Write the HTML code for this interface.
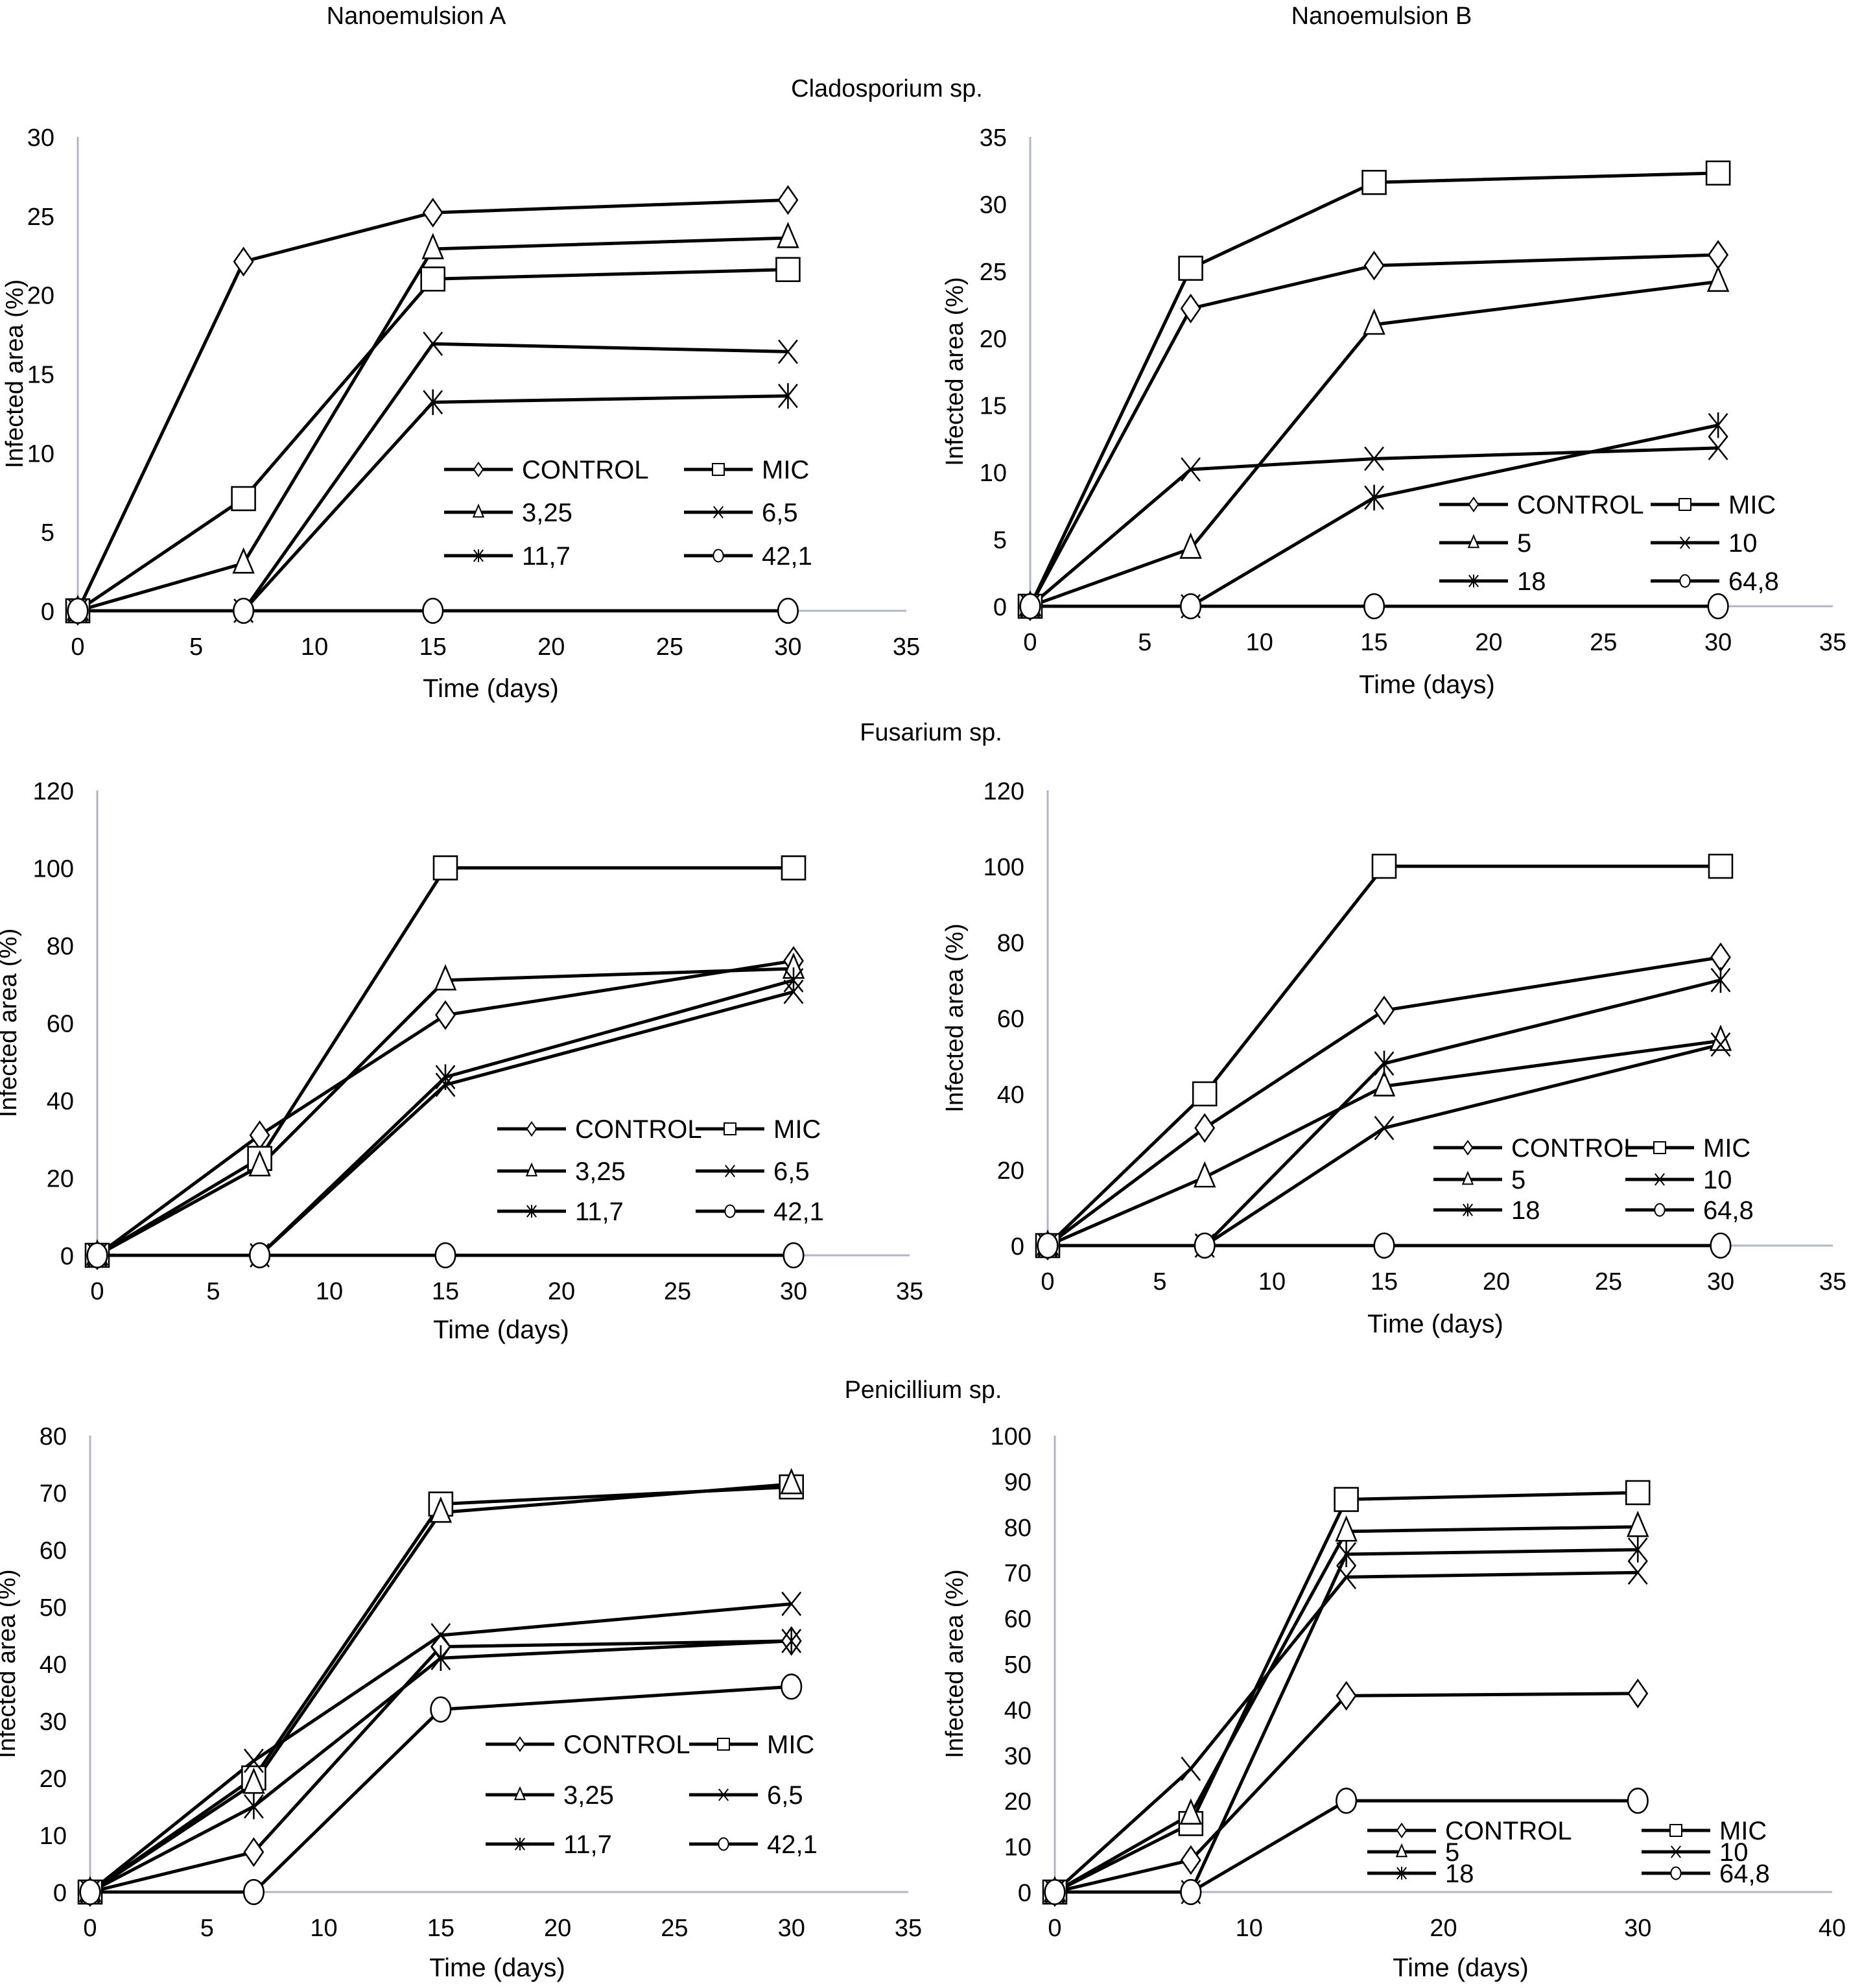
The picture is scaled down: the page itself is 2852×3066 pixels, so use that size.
<!DOCTYPE html>
<html><head><meta charset="utf-8"><style>
html,body{margin:0;padding:0;background:#fff;}
svg{display:block;font-family:"Liberation Sans",Arial,sans-serif;}
</style></head><body>
<svg id="fig" width="2852" height="3066" viewBox="0 0 2852 3066" xmlns="http://www.w3.org/2000/svg">
<text x="642" y="37" font-size="38" text-anchor="middle">Nanoemulsion A</text>
<text x="2131" y="37" font-size="38" text-anchor="middle">Nanoemulsion B</text>
<text x="1368" y="149" font-size="38" text-anchor="middle">Cladosporium sp.</text>
<text x="1436" y="1142" font-size="38" text-anchor="middle">Fusarium sp.</text>
<text x="1424" y="2156" font-size="38" text-anchor="middle">Penicillium sp.</text>
</svg>
<script>
const days = [0, 7, 15, 30];
const legendA = ["CONTROL", "MIC", "3,25", "6,5", "11,7", "42,1"];
const legendB = ["CONTROL", "MIC", "5", "10", "18", "64,8"];
const markers = ["diamond", "square", "triangle", "x", "star", "circle"];

const cladA_control = [0, 22.1, 25.2, 26.0];
const cladA_mic = [0, 7.1, 21.0, 21.6];
const cladA_c1 = [0, 3.0, 22.9, 23.6];
const cladA_c2 = [0, 0, 16.9, 16.4];
const cladA_c3 = [0, 0, 13.2, 13.6];
const cladA_c4 = [0, 0, 0, 0];

const cladB_control = [0, 22.2, 25.4, 26.2];
const cladB_mic = [0, 25.2, 31.6, 32.3];
const cladB_c1 = [0, 4.3, 21.0, 24.2];
const cladB_c2 = [0, 10.2, 11.0, 11.8];
const cladB_c3 = [0, 0, 8.1, 13.5];
const cladB_c4 = [0, 0, 0, 0];

const fusA_control = [0, 31, 62, 76];
const fusA_mic = [0, 25, 100, 100];
const fusA_c1 = [0, 23, 71, 74];
const fusA_c2 = [0, 0, 44, 68];
const fusA_c3 = [0, 0, 46, 71];
const fusA_c4 = [0, 0, 0, 0];

const fusB_control = [0, 31, 62, 76];
const fusB_mic = [0, 40, 100, 100];
const fusB_c1 = [0, 18, 42, 54];
const fusB_c2 = [0, 0, 31, 53];
const fusB_c3 = [0, 0, 48, 70];
const fusB_c4 = [0, 0, 0, 0];

const penA_control = [0, 7, 43, 44];
const penA_mic = [0, 20, 68, 71];
const penA_c1 = [0, 19, 66.5, 71.5];
const penA_c2 = [0, 23, 45, 50.5];
const penA_c3 = [0, 15, 41, 44];
const penA_c4 = [0, 0, 32, 36];

const penB_control = [0, 7, 43, 43.5];
const penB_mic = [0, 15, 86, 87.5];
const penB_c1 = [0, 17, 79, 80];
const penB_c2 = [0, 27, 69, 70];
const penB_c3 = [0, 0, 74, 75];
const penB_c4 = [0, 0, 20, 20];

const ticksXa = [0, 5, 10, 15, 20, 25, 30, 35];
const ticksXb = [0, 10, 20, 30, 40];
const ticksY30 = [0, 5, 10, 15, 20, 25, 30];
const ticksY35 = [0, 5, 10, 15, 20, 25, 30, 35];
const ticksY120 = [0, 20, 40, 60, 80, 100, 120];
const ticksY80 = [0, 10, 20, 30, 40, 50, 60, 70, 80];
const ticksY100 = [0, 10, 20, 30, 40, 50, 60, 70, 80, 90, 100];

const NS = "http://www.w3.org/2000/svg";
const svg = document.getElementById("fig");
function mk(tag, attrs, parent) {
  const e = document.createElementNS(NS, tag);
  for (const k in attrs) e.setAttribute(k, attrs[k]);
  (parent || svg).appendChild(e);
  return e;
}
function marker(g, type, x, y, s) {
  const st = {fill: "#fff", stroke: "#000", "stroke-width": Math.max(2, s / 14)};
  let e;
  const h = s / 2;
  if (type === "diamond") e = mk("polygon", Object.assign({points: `${x},${y-h*1.15} ${x+h*0.8},${y} ${x},${y+h*1.15} ${x-h*0.8},${y}`}, st), g);
  else if (type === "square") e = mk("rect", Object.assign({x: x-h, y: y-h, width: s, height: s}, st), g);
  else if (type === "triangle") e = mk("polygon", Object.assign({points: `${x},${y-h*1.2} ${x+h*0.85},${y+h*0.8} ${x-h*0.85},${y+h*0.8}`}, st), g);
  else if (type === "circle") e = mk("ellipse", Object.assign({cx: x, cy: y, rx: h*0.85, ry: h*1.05}, st), g);
  else if (type === "x") e = mk("path", {d: `M${x-h*0.8},${y-h} L${x+h*0.8},${y+h} M${x+h*0.8},${y-h} L${x-h*0.8},${y+h}`, stroke: "#000", "stroke-width": st["stroke-width"], fill: "none"}, g);
  else e = mk("path", {d: `M${x-h*0.8},${y-h} L${x+h*0.8},${y+h} M${x+h*0.8},${y-h} L${x-h*0.8},${y+h} M${x},${y-h*1.1} L${x},${y+h*1.1}`, stroke: "#000", "stroke-width": st["stroke-width"], fill: "none"}, g);
  
  
}

function panel(p) {
  const g = mk("g", {});
  
  
  const xmax = p.xt[p.xt.length - 1], ymax = p.yt[p.yt.length - 1];
  const X = v => p.x0 + (p.x1 - p.x0) * v / xmax;
  const Y = v => p.y0 - (p.y0 - p.y1) * v / ymax;
  const ya = mk("line", {x1: p.x0, y1: p.y1, x2: p.x0, y2: p.y0, stroke: "#b0b6c4", "stroke-width": 3}, g);
  
  
  const xa = mk("line", {x1: p.x0, y1: p.y0, x2: p.x1, y2: p.y0, stroke: "#b0b6c4", "stroke-width": 3}, g);
  
  
  p.yt.forEach(v => {
    const t = mk("text", {x: p.x0 - 36, y: Y(v) + 14, "font-size": 38, "text-anchor": "end"}, g);
    t.textContent = v;
    
    
  });
  p.xt.forEach(v => {
    const t = mk("text", {x: X(v), y: p.y0 + 68, "font-size": 38, "text-anchor": "middle"}, g);
    t.textContent = v;
    
    
  });
  const yt = mk("text", {x: 0, y: 0, "font-size": 38, "text-anchor": "middle", transform: `translate(${p.ylx},${(p.y0 + p.y1) / 2}) rotate(-90)`}, g);
  yt.textContent = "Infected  area (%)";
  
  
  const xt = mk("text", {x: p.xtx, y: p.xty, "font-size": 40, "text-anchor": "middle"}, g);
  xt.textContent = "Time (days)";
  
  
  for (let i = p.series.length - 1; i >= 0; i--) {
    const vals = p.series[i];
    const pts = vals.map((v, j) => X(days[j]) + "," + Y(v)).join(" ");
    const l = mk("polyline", {points: pts, fill: "none", stroke: "#000", "stroke-width": 5, "stroke-linejoin": "round"}, g);
    
    
  }
  for (let i = 0; i < p.series.length; i++) {
    p.series[i].forEach((v, j) => marker(g, markers[i], X(days[j]), Y(v), 36));
  }
  p.labels.forEach((lab, i) => {
    const col = i % 2, row = Math.floor(i / 2);
    const lx = p.leg.cols[col], ly = p.leg.rows[row];
    const lg = mk("g", {}, g);
    
    
    mk("line", {x1: lx, y1: ly, x2: lx + 106, y2: ly, stroke: "#000", "stroke-width": 5}, lg);
    marker(lg, markers[i], lx + 53, ly, 18);
    const t = mk("text", {x: lx + 120, y: ly + 14, "font-size": 40}, lg);
    t.textContent = lab;
  });
}

panel({name: "chart-cladosporium-a", x0: 120, x1: 1398, y0: 942, y1: 211, xt: ticksXa, yt: ticksY30, ylx: 35, xtx: 757, xty: 1075,
  series: [cladA_control, cladA_mic, cladA_c1, cladA_c2, cladA_c3, cladA_c4], labels: legendA,
  leg: {cols: [685, 1055], rows: [724, 790, 857]}});
panel({name: "chart-cladosporium-b", x0: 1589, x1: 2827, y0: 935, y1: 211, xt: ticksXa, yt: ticksY35, ylx: 1485, xtx: 2201, xty: 1069,
  series: [cladB_control, cladB_mic, cladB_c1, cladB_c2, cladB_c3, cladB_c4], labels: legendB,
  leg: {cols: [2220, 2546], rows: [778, 837, 896]}});
panel({name: "chart-fusarium-a", x0: 150, x1: 1403, y0: 1936, y1: 1219, xt: ticksXa, yt: ticksY120, ylx: 25, xtx: 773, xty: 2064,
  series: [fusA_control, fusA_mic, fusA_c1, fusA_c2, fusA_c3, fusA_c4], labels: legendA,
  leg: {cols: [767, 1073], rows: [1741, 1806, 1868]}});
panel({name: "chart-fusarium-b", x0: 1616, x1: 2827, y0: 1921, y1: 1219, xt: ticksXa, yt: ticksY120, ylx: 1485, xtx: 2214, xty: 2055,
  series: [fusB_control, fusB_mic, fusB_c1, fusB_c2, fusB_c3, fusB_c4], labels: legendB,
  leg: {cols: [2211, 2507], rows: [1770, 1819, 1866]}});
panel({name: "chart-penicillium-a", x0: 139, x1: 1401, y0: 2918, y1: 2214, xt: ticksXa, yt: ticksY80, ylx: 23, xtx: 767, xty: 3048,
  series: [penA_control, penA_mic, penA_c1, penA_c2, penA_c3, penA_c4], labels: legendA,
  leg: {cols: [749, 1063], rows: [2690, 2768, 2844]}});
panel({name: "chart-penicillium-b", x0: 1627, x1: 2826, y0: 2918, y1: 2214, xt: ticksXb, yt: ticksY100, ylx: 1485, xtx: 2253, xty: 3048,
  series: [penB_control, penB_mic, penB_c1, penB_c2, penB_c3, penB_c4], labels: legendB,
  leg: {cols: [2109, 2532], rows: [2823, 2856, 2889]}});
</script>
</body></html>
